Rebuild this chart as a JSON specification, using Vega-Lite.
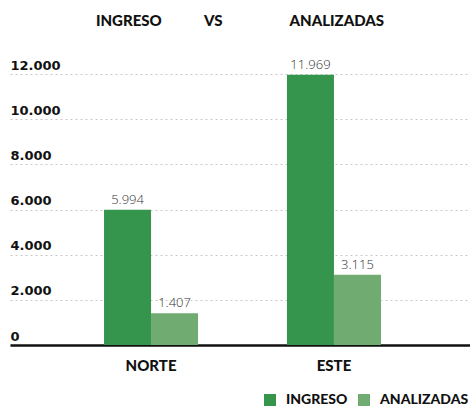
{
  "$schema": "https://vega.github.io/schema/vega-lite/v6.json",
  "width": 460,
  "height": 271,
  "autosize": {"type": "none"},
  "padding": {"left": 10, "top": 74, "right": 0, "bottom": 63},
  "background": "white",
  "title": {
    "text": "INGRESO\u00a0\u00a0\u00a0\u00a0\u00a0\u00a0\u00a0\u00a0\u00a0\u00a0\u00a0\u00a0VS\u00a0\u00a0\u00a0\u00a0\u00a0\u00a0\u00a0\u00a0\u00a0\u00a0\u00a0\u00a0\u00a0\u00a0\u00a0\u00a0\u00a0\u00a0\u00a0ANALIZADAS",
    "anchor": "middle",
    "offset": 30,
    "font": "Lato",
    "fontSize": 15,
    "fontWeight": 900,
    "color": "#111111"
  },
  "config": {
    "view": {"stroke": null},
    "locale": {"number": {"decimal": ",", "thousands": ".", "grouping": [3], "currency": ["", " €"]}}
  },
  "data": {
    "values": [
      {"region": "Norte", "serie": "Ingreso", "valor": 5994},
      {"region": "Norte", "serie": "Analizadas", "valor": 1407},
      {"region": "Este", "serie": "Ingreso", "valor": 11969},
      {"region": "Este", "serie": "Analizadas", "valor": 3115}
    ]
  },
  "encoding": {
    "x": {
      "field": "region",
      "type": "nominal",
      "sort": ["Norte", "Este"],
      "scale": {"range": [0, 465], "paddingInner": 0.486, "paddingOuter": 0.514},
      "axis": {
        "title": null,
        "ticks": false,
        "labelAngle": 0,
        "domainColor": "#111111",
        "domainWidth": 2.5,
        "labelPadding": 13,
        "labelFont": "Lato",
        "labelFontWeight": 900,
        "labelFontSize": 15,
        "labelColor": "#111111",
        "labelExpr": "upper(datum.label)"
      }
    },
    "xOffset": {
      "field": "serie",
      "type": "nominal",
      "sort": ["Ingreso", "Analizadas"],
      "scale": {"paddingInner": 0, "paddingOuter": 0}
    },
    "y": {
      "field": "valor",
      "type": "quantitative",
      "scale": {"domain": [0, 12000]},
      "axis": {
        "title": null,
        "values": [0, 2000, 4000, 6000, 8000, 10000, 12000],
        "format": ",d",
        "ticks": false,
        "domain": false,
        "labelAlign": "left",
        "labelPadding": 0,
        "labelBaseline": "alphabetic",
        "labelOffset": -5,
        "labelFont": "DejaVu Sans",
        "labelFontWeight": "bold",
        "labelFontSize": 13,
        "labelColor": "#111111",
        "gridColor": "#c8c8c8",
        "gridDash": [2, 3],
        "gridWidth": 1
      }
    }
  },
  "layer": [
    {
      "mark": {"type": "bar"},
      "encoding": {
        "color": {
          "field": "serie",
          "type": "nominal",
          "scale": {"domain": ["Ingreso", "Analizadas"], "range": ["#36954c", "#70ab72"]},
          "legend": {
            "orient": "none",
            "legendX": 253,
            "legendY": 319,
            "direction": "horizontal",
            "title": null,
            "symbolType": "square",
            "symbolSize": 144,
            "symbolStrokeWidth": 0,
            "symbolOpacity": 1,
            "columnPadding": 9,
            "labelOffset": 9,
            "labelFont": "Lato",
            "labelFontWeight": 900,
            "labelFontSize": 14,
            "labelColor": "#111111",
            "labelLimit": 300,
            "labelExpr": "upper(datum.label)"
          }
        }
      }
    },
    {
      "mark": {"type": "text", "dy": -3, "baseline": "bottom", "font": "Open Sans", "fontSize": 13, "fontWeight": 300, "color": "#333333"},
      "encoding": {
        "text": {"field": "valor", "type": "quantitative", "format": ",d"}
      }
    }
  ]
}
